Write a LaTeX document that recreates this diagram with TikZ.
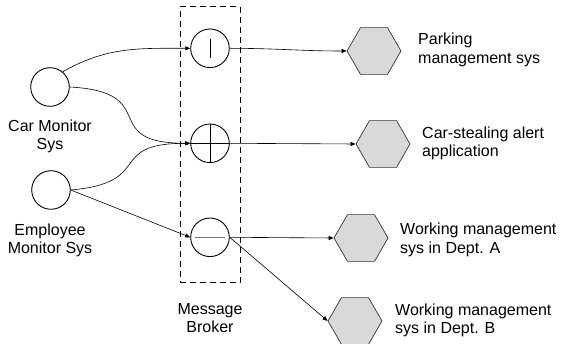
\documentclass[tikz,border=0pt]{standalone}
\usepackage{fontspec}
\setmainfont{Liberation Sans}
\usetikzlibrary{shapes.geometric,arrows.meta}

\begin{document}
\begin{tikzpicture}[x=1pt,y=-1pt,
  font=\fontsize{16}{18.5}\selectfont,
  srcnode/.style={circle,draw,line width=0.9pt,minimum size=38.6pt,inner sep=0pt},
  hubnode/.style={circle,draw,line width=0.9pt,minimum size=38.6pt,inner sep=0pt},
  appnode/.style={regular polygon,regular polygon sides=6,draw=black!80,fill=black!15,
                  line width=0.7pt,minimum size=54pt,inner sep=0pt},
  link/.style={line width=0.6pt,-{Triangle[length=5pt,width=4pt]}},
  rlabel/.style={inner sep=0pt,align=left,anchor=base west},
  clabel/.style={inner sep=0pt,align=center,anchor=base}]
\useasboundingbox (0,0) rectangle (563,344);

% message broker frame (labels are placed by the baseline of their last line)
\node[draw,dash pattern=on 6pt off 4pt,line width=1pt,
      minimum width=60pt,minimum height=276pt,inner sep=0pt] (broker) at (210,145) {};
\node[clabel] (brokerlbl) at (210,333) {Message\\Broker};

% producers
\node[srcnode] (car) at (50,87) {};
\node[srcnode] (emp) at (51,190) {};
\node[clabel] (carlbl) at (50,150) {Car Monitor\\Sys};
\node[clabel] (emplbl) at (50,254) {Employee\\Monitor Sys};

% broker exchanges
\node[hubnode] (b1) at (210,48.3) {};
\node[hubnode] (b2) at (210,143.3) {};
\node[hubnode] (b3) at (210,237.3) {};
\draw[line width=0.9pt] (210,39) -- (210,58);
\draw[line width=0.9pt] (b2.north) -- (b2.south);
\draw[line width=0.9pt] (b2.west) -- (b2.east);
\draw[line width=1.2pt,black!55] (195,237.3) -- (225,237.3);

% consumers
\node[appnode] (park) at (374,51) {};
\node[appnode] (steal) at (383,144) {};
\node[appnode] (depta) at (361,238) {};
\node[appnode] (deptb) at (355,321) {};
\node[rlabel] (parklbl) at (418,63.5) {Parking\\management sys};
\node[rlabel] (steallbl) at (422,156.8) {Car-stealing alert\\application};
\node[rlabel] (deptalbl) at (400,253.3) {Working management\\sys in Dept. A};
\node[rlabel] (deptblbl) at (395,334) {Working management\\sys in Dept. B};

% routes into the broker
\draw[link] (car.50) to[out=30,in=180] (b1.west);
\draw[link] (car.east) to[out=-3,in=180,looseness=1.8] (b2.west);
\draw[link] (emp.east) to[out=5,in=180,looseness=1.7] (b2.west);
\draw[link] (emp.east) -- (b3.west);

% routes out of the broker
\draw[link] (b1.east) to[out=0,in=180] (park.west);
\draw[link] (b2.east) -- (steal.west);
\draw[link] (b3.east) -- (depta.west);
\draw[link] (b3.east) -- (deptb.west);
\end{tikzpicture}
\end{document}
